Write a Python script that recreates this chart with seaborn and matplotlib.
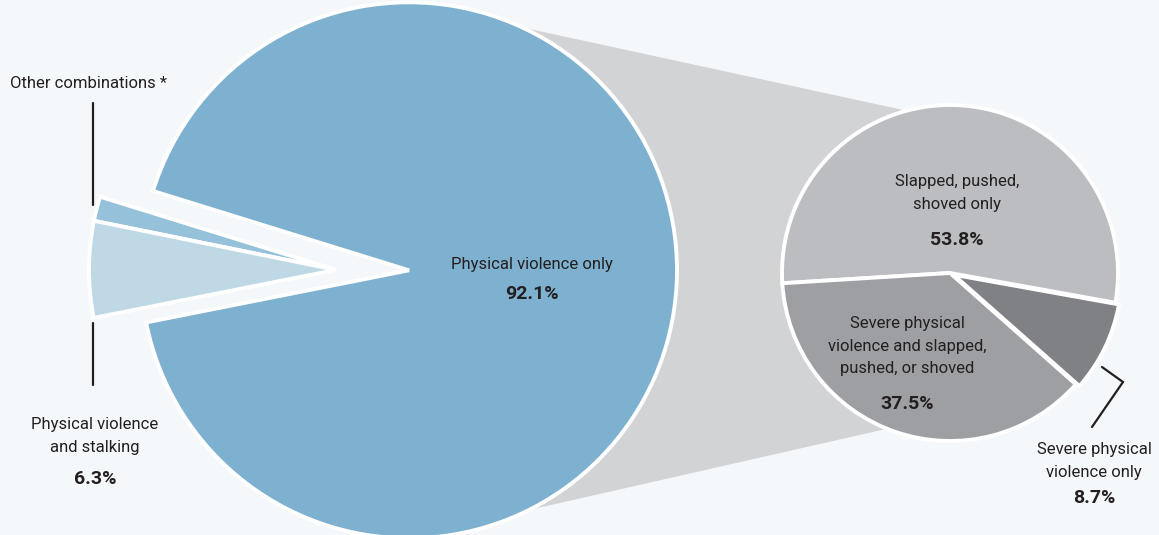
import numpy as np
import matplotlib
matplotlib.use('Agg')
import matplotlib.pyplot as plt
import seaborn as sns

# data
big_labels = ['Physical violence only', 'Other combinations *', 'Physical violence\nand stalking']
big_values = [92.1, 1.6, 6.3]
big_colors = ['#7eb0cf', '#95c1da', '#bfd8e6']

small_labels = ['Slapped, pushed,\nshoved only', 'Severe physical\nviolence only',
                'Severe physical\nviolence and slapped,\npushed, or shoved']
small_values = [53.8, 8.7, 37.5]
small_colors = ['#bcbdc1', '#808185', '#9e9fa3']

sns.set_theme(style='white')
plt.rcParams['font.family'] = ['Roboto', 'DejaVu Sans']

W, H = 1159, 535
bg = '#f4f8fb'
txt = '#231f20'
fig = plt.figure(figsize=(W / 100, H / 100), dpi=100, facecolor=bg)
ax = fig.add_axes([0, 0, 1, 1])
ax.set_facecolor(bg)

# geometry (pixels, y up)
c_big = (403, 265)
r_big = 268
c_small = (950, 262)
r_small = 168

# grey connector between the two pies
def on_circle(c, r, deg):
    t = np.radians(deg)
    return c[0] + r * np.cos(t), c[1] + r * np.sin(t)

pts = [on_circle(c_big, r_big, 66), on_circle(c_small, r_small, 105),
       on_circle(c_small, r_small, -112), on_circle(c_big, r_big, -65)]
ax.fill([p[0] for p in pts], [p[1] for p in pts], color='#d2d3d5', zorder=0, lw=0)

# big pie, the cut-out slices point slightly above due left
gap_mid = 177
start = gap_mid + (100 - big_values[0]) / 100 * 180
wedges, _ = ax.pie(big_values, colors=big_colors, startangle=start, center=c_big,
                   radius=r_big, explode=[6, 0, 67], frame=True,
                   wedgeprops=dict(edgecolor='white', linewidth=2.8))
# both cut-out slices are pulled out together, from the same apex
for w in wedges[1:]:
    w.set_radius(247)
    w.set_center(wedges[2].center)

# small pie
ax.pie(small_values, colors=small_colors, startangle=183.5, counterclock=False,
       center=c_small, radius=r_small, explode=[0, 4, 0], frame=True,
       wedgeprops=dict(edgecolor='white', linewidth=2.8))

ax.set_xlim(0, W)
ax.set_ylim(0, H)
ax.set_aspect('equal')
ax.axis('off')

fs = 12
def label(x, y, s, pct=None, gap=30, ha='center'):
    ax.text(x, H - y, s, ha=ha, va='center', fontsize=fs, color=txt, linespacing=1.6)
    if pct is not None:
        ax.text(x, H - y - gap, f'{pct:.1f}%', ha=ha, va='center', fontsize=fs + 2,
                fontweight='bold', color=txt)

label(532, 265, big_labels[0], big_values[0], gap=29)
ax.text(10, H - 83, big_labels[1], ha='left', va='center', fontsize=fs, color=txt)
label(95, 436, big_labels[2], big_values[2], gap=43)

label(957, 193, small_labels[0], small_values[0], gap=47)
label(907, 346, small_labels[2], small_values[2], gap=58)
label(1094, 461, small_labels[1], small_values[1], gap=37)

# leader lines
ax.plot([93, 93], [H - 103, H - 205], color=txt, lw=1.6, zorder=1)
ax.plot([93, 93], [H - 323, H - 385], color=txt, lw=1.6, zorder=1)
ax.plot([1102, 1123, 1092], [H - 367, H - 382, H - 427], color=txt, lw=1.6,
        solid_joinstyle='miter')

fig.savefig('out.png', dpi=100, facecolor=bg)
